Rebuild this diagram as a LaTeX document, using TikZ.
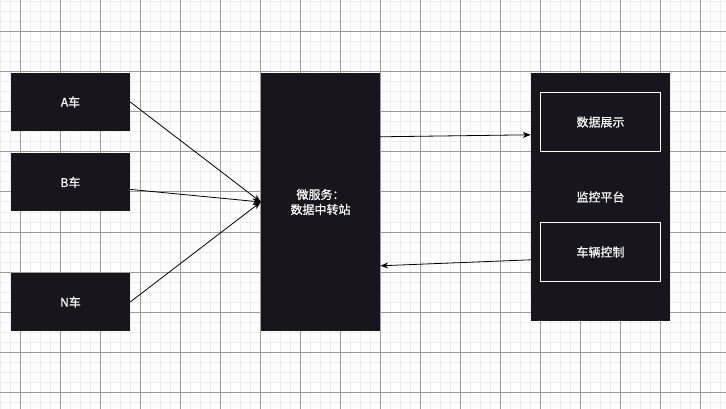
\documentclass[tikz,border=0pt]{standalone}
\usepackage{fontspec}
\setmainfont{Noto Sans CJK SC}[RawFeature={embolden=0.6}]
\usetikzlibrary{positioning,arrows.meta}

\definecolor{boxfill}{RGB}{24,22,28}
\definecolor{minorgrid}{RGB}{236,236,236}
\definecolor{majorgrid}{RGB}{155,155,155}

\begin{document}
\begin{tikzpicture}[x=1pt, y=-1pt,
	every node/.style={font=\fontsize{12}{15}\selectfont, text=white, inner sep=0pt},
	box/.style={fill=boxfill, minimum width=119pt, minimum height=58pt},
	panel/.style={draw=white, line width=1pt, minimum width=120pt, minimum height=59pt},
	link/.style={-{Stealth[length=8pt, width=6pt]}, line width=0.8pt}]
	\useasboundingbox (0,0) rectangle (726,409);
	\fill[white] (0,0) rectangle (726,409);
	% grid
	\foreach \x in {0,10,...,720} \draw[minorgrid, line width=1pt] (\x,0) -- (\x,409);
	\foreach \y in {2,12,...,402} \draw[minorgrid, line width=1pt] (0,\y) -- (726,\y);
	\foreach \x in {20,60,...,700} \draw[majorgrid, line width=1pt] (\x,0) -- (\x,409);
	\foreach \y in {32,72,...,392} \draw[majorgrid, line width=1pt] (0,\y) -- (726,\y);

	\node[box] (A) at (70.5,102) {A车};
	\node[box, below=22pt of A] (B) {B车};
	\node[box] (N) at (70.5,302) {N车};
	\node[box, minimum height=258pt, align=center] (hub) at (320.5,202) {微服务：\\数据中转站};
	\node[box, minimum width=139pt, minimum height=248pt] (platform) at (600.5,197) {监控平台};
	\node[panel] (show) at (600.5,122) {数据展示};
	\node[panel] (ctrl) at (600.5,252) {车辆控制};

	\draw[link] (A.east) -- (hub.west);
	\draw[link] ([yshift=-7pt]B.east) -- (hub.west);
	\draw[link] (N.east) -- (hub.west);
	\draw[link] ([yshift=-64pt]hub.north east) -- ([yshift=-62pt]platform.north west);
	\draw[link] ([yshift=-187pt]platform.north west) -- ([yshift=-193pt]hub.north east);
\end{tikzpicture}
\end{document}
